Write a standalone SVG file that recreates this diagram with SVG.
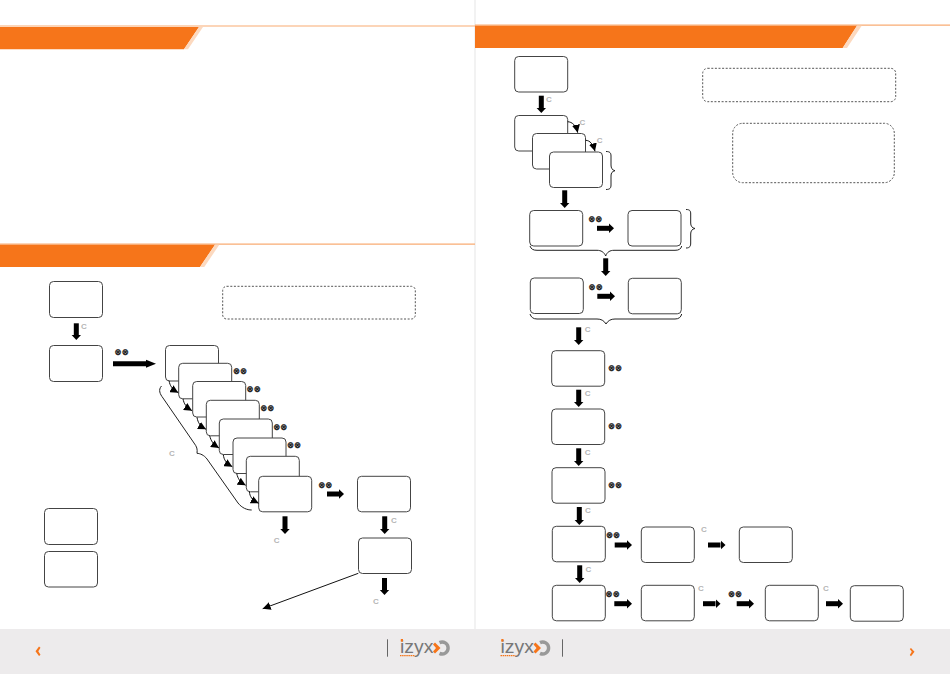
<svg xmlns="http://www.w3.org/2000/svg" width="950" height="674" viewBox="0 0 950 674">
<style>
.n{fill:#fff;stroke:#444;stroke-width:1}
.d{fill:#fff;stroke:#555;stroke-width:1;stroke-dasharray:2 1.6}
.a{fill:none;stroke:#000;stroke-width:5;marker-end:url(#h)}
.A{fill:none;stroke:#000;stroke-width:5;marker-end:url(#H)}
.t{fill:none;stroke:#111;stroke-width:1;marker-end:url(#s)}
.b{fill:none;stroke:#222;stroke-width:1}
.c{font:bold 8px "Liberation Sans",Arial,sans-serif;fill:#b5b5b5;text-anchor:middle}
.x{font:bold 8.5px "DejaVu Sans",sans-serif;fill:#111;stroke:#111;stroke-width:.25;text-anchor:middle}
.o{fill:#f6751a}
.l{fill:#fcd9bf}
.logo{font:17.5px "Liberation Sans",Arial,sans-serif;fill:#777}
</style>
<defs>
<marker id="h" markerUnits="userSpaceOnUse" markerWidth="6" markerHeight="11" refX="0" refY="5.5" orient="auto"><path d="M0 .8L5 5.5L0 10.2Z"/></marker>
<marker id="H" markerUnits="userSpaceOnUse" markerWidth="11" markerHeight="11" refX="0" refY="5.5" orient="auto"><path d="M0 1.5L10 5.5L0 9.5Z"/></marker>
<marker id="s" markerUnits="userSpaceOnUse" markerWidth="9" markerHeight="8" refX="8" refY="4" orient="auto"><path d="M0 0L8 4L0 8Z"/></marker>
<g id="logo">
<text class="logo" x="0" y="653" textLength="33.5" lengthAdjust="spacingAndGlyphs">izyx</text>
<rect x="0.8" y="639" width="2.2" height="2.6" fill="#f6751a"/>
<path d="M0 655.6H15" stroke="#f6751a" stroke-width="1.4" stroke-dasharray="1.5 .6" fill="none"/>
<path d="M39.5 642.6A6 6 0 1 1 39.5 653.4" fill="none" stroke="#999" stroke-width="3.4"/>
<path d="M35 642.5L40.5 648L35 653.5L33 651.5L36 648L33 644.5Z" fill="#f6751a"/>
</g>
</defs>
<rect width="950" height="674" fill="#fff"/>
<path d="M475 0V629" stroke="#eeeeee" stroke-width="1.5"/>

<g id="headers">
<path d="M0 25.5H475V26.6H0Z" fill="#f9ab73"/>
<path class="o" d="M0 27H199L184 49.3H0Z"/><path class="l" d="M199 27H203L188 49.3H184Z"/>
<path d="M0 243.6H475V244.7H0Z" fill="#f9ab73"/>
<path class="o" d="M0 244.7H215L200 267H0Z"/><path class="l" d="M215 244.7H219.3L204.3 267H200Z"/>
<path d="M475 24.6H950V25.7H475Z" fill="#f9ab73"/>
<path class="o" d="M475 25.7H857L842.7 48H475Z"/><path class="l" d="M857 25.7H861.7L847 48H842.7Z"/>
</g>
<g id="footer">
<rect y="629" width="950" height="45" fill="#edebec"/>
<path class="o" d="M39 646.5L35.5 651.3L39 656L40.5 654.8L38.3 651.3L40.5 647.7Z"/>
<path class="o" d="M911 648L914.5 651.8L911 656.2L909.8 655L911.8 651.8L909.8 649Z"/>
<path d="M387.5 639.3V656.7M562.5 639.3V656.7" stroke="#666" stroke-width="1"/>
<use href="#logo" x="400"/>
<use href="#logo" x="500.5"/>
</g>

<g id="note-1"><rect class="d" x="222.7" y="286.3" width="192.6" height="32.7" rx="4"/></g>
<g id="note-2"><rect class="d" x="702.7" y="68.3" width="193" height="33.4" rx="5"/></g>
<g id="note-3"><rect class="d" x="732.7" y="123.3" width="161.6" height="59.4" rx="10"/></g>

<g id="n1"><rect class="n" x="49.5" y="281.5" width="53" height="36" rx="4"/></g>
<g id="n2"><rect class="n" x="49.5" y="345.5" width="53" height="36" rx="4"/></g>
<g id="n3"><rect class="n" x="165.5" y="345.5" width="53" height="35.5" rx="4"/></g>
<g id="n4"><rect class="n" x="178.7" y="363.3" width="53" height="35.5" rx="4"/></g>
<g id="n5"><rect class="n" x="192.7" y="381.5" width="53" height="35.5" rx="4"/></g>
<g id="n6"><rect class="n" x="206.3" y="400.3" width="53" height="35.5" rx="4"/></g>
<g id="n7"><rect class="n" x="219.3" y="419" width="53" height="35.5" rx="4"/></g>
<g id="n8"><rect class="n" x="233" y="438" width="53" height="35.5" rx="4"/></g>
<g id="n9"><rect class="n" x="246.3" y="456.3" width="53" height="35.5" rx="4"/></g>
<g id="n10"><rect class="n" x="258.7" y="476.3" width="53" height="35.5" rx="4"/></g>
<g id="n11"><rect class="n" x="357.5" y="476.3" width="53" height="35.5" rx="4"/></g>
<g id="n12"><rect class="n" x="358.5" y="538" width="53" height="35.5" rx="4"/></g>
<g id="n13"><rect class="n" x="44.5" y="508.5" width="53" height="36" rx="4"/></g>
<g id="n14"><rect class="n" x="44.5" y="551.5" width="53" height="35.5" rx="4"/></g>

<g id="n15"><rect class="n" x="514.7" y="56.5" width="53" height="35.5" rx="4"/></g>
<g id="n16"><rect class="n" x="514.7" y="115.5" width="53" height="35.5" rx="4"/></g>
<g id="n17"><rect class="n" x="532.5" y="133.5" width="53" height="35.5" rx="4"/></g>
<g id="n18"><rect class="n" x="549.5" y="152" width="53" height="35.5" rx="4"/></g>
<g id="n19"><rect class="n" x="529.7" y="210.5" width="53" height="35.5" rx="4"/></g>
<g id="n20"><rect class="n" x="628" y="210.5" width="53" height="35.5" rx="4"/></g>
<g id="n21"><rect class="n" x="530.3" y="278" width="53" height="35.5" rx="4"/></g>
<g id="n22"><rect class="n" x="628.3" y="278.3" width="53" height="35.5" rx="4"/></g>
<g id="n23"><rect class="n" x="551.7" y="350.7" width="53" height="35.5" rx="4"/></g>
<g id="n24"><rect class="n" x="551.7" y="409" width="53" height="35.5" rx="4"/></g>
<g id="n25"><rect class="n" x="552" y="467.7" width="53" height="35.5" rx="4"/></g>
<g id="n26"><rect class="n" x="552.3" y="526.3" width="53" height="35.5" rx="4"/></g>
<g id="n27"><rect class="n" x="641.3" y="527" width="53" height="35.5" rx="4"/></g>
<g id="n28"><rect class="n" x="739.3" y="527" width="53" height="35.5" rx="4"/></g>
<g id="n29"><rect class="n" x="552.3" y="585.3" width="53" height="35.5" rx="4"/></g>
<g id="n30"><rect class="n" x="641.3" y="585.3" width="53" height="35.5" rx="4"/></g>
<g id="n31"><rect class="n" x="765.3" y="585.3" width="53" height="35.5" rx="4"/></g>
<g id="n32"><rect class="n" x="850.3" y="585.7" width="53" height="35.5" rx="4"/></g>

<g id="connectors">
<path class="A" d="M113 363.7H146"/>
<path class="a" d="M76.3 323.3V335"/>
<path class="a" d="M285 516.3V529"/>
<path class="a" d="M384.7 516.3V529"/>
<path class="a" d="M384.5 578V590"/>
<path class="a" d="M327 494H339"/>
<path class="a" d="M541.3 95.7V108"/>
<path class="a" d="M564.7 190.3V203"/>
<path class="a" d="M605.7 258.3V271"/>
<path class="a" d="M578.7 327.3V340"/>
<path class="a" d="M578.7 389.7V402"/>
<path class="a" d="M578.7 448.3V461"/>
<path class="a" d="M579.3 507V520"/>
<path class="a" d="M579.7 565.3V578"/>
<path class="a" d="M597 228.3H609"/>
<path class="a" d="M597.3 296.3H610"/>
<path class="a" d="M614.7 545H627"/>
<path class="a" d="M708 545H720.5"/>
<path class="a" d="M614.3 603.7H627"/>
<path class="a" d="M703 603.7H715.5"/>
<path class="a" d="M736.7 603.7H749"/>
<path class="a" d="M826 603.7H838"/>
<path class="t" d="M169 380.5C170 386 172 389 178.3 392.7"/>
<path class="t" d="M183 398.8C184 404 186 407 192 410.7"/>
<path class="t" d="M197 417.3C198 423 200 426 206 429.3"/>
<path class="t" d="M209.7 435.8C211 441 213 444 219 448"/>
<path class="t" d="M223.3 454.7C224 460 226 463 232.3 466.7"/>
<path class="t" d="M236.7 473.5C238 479 240 482 245.7 485.3"/>
<path class="t" d="M249.3 491.5C250 497 252 500 258.7 503.3"/>
<path class="t" d="M567.7 121.7C572 122 576 125 577.7 132.7"/>
<path class="t" d="M585.7 140.3C590 140.5 593 144 595 151.3"/>
<path class="t" d="M358.3 573.3L262.7 608.7"/>
<path class="b" d="M161.5 386C158 390 160 394 163 398L194 443C197 447 197.5 449 197 453.3C200 453.5 204 455 207 459L238 503C242 508 247 510 251.7 510"/>
<path class="b" d="M606 151.5C610 151.5 611 153 611 156V165C611 168 612 170 615 170.7C612 171.5 611 173 611 176V185C611 188 610 189.5 606 189.5"/>
<path class="b" d="M686 209.5C690 209.5 690.7 211 690.7 214V223C690.7 226 692 228 695 228.5C692 229 690.7 231 690.7 234V243C690.7 246 690 248 686 248"/>
<path class="b" d="M530 246C531 249 533 250.3 537 250.3H597C601 250.3 604 252 605.7 256C607 252 610 250.3 614 250.3H675C679 250.3 681 249 681.7 246"/>
<path class="b" d="M530 314C531 317 533 319 537 319H597C601 319 604 320.5 606 324C608 320.5 611 319 615 319H675C679 319 681 317 681.7 314"/>
</g>

<g id="labels">
<text class="x" x="121.7" y="355.3">⊗⊗</text>
<text class="x" x="240" y="373.7">⊗⊗</text>
<text class="x" x="253.7" y="392.3">⊗⊗</text>
<text class="x" x="267.3" y="411">⊗⊗</text>
<text class="x" x="280.3" y="429.7">⊗⊗</text>
<text class="x" x="294" y="448">⊗⊗</text>
<text class="x" x="325.3" y="487.7">⊗⊗</text>
<text class="x" x="595.3" y="222">⊗⊗</text>
<text class="x" x="595.7" y="289.7">⊗⊗</text>
<text class="x" x="615" y="371.3">⊗⊗</text>
<text class="x" x="615" y="429.3">⊗⊗</text>
<text class="x" x="615" y="488.3">⊗⊗</text>
<text class="x" x="613" y="538.3">⊗⊗</text>
<text class="x" x="612.7" y="597">⊗⊗</text>
<text class="x" x="735" y="597">⊗⊗</text>
<text class="c" x="84" y="329.2">C</text>
<text class="c" x="172" y="456.2">C</text>
<text class="c" x="276.7" y="542.9">C</text>
<text class="c" x="394" y="522.9">C</text>
<text class="c" x="376" y="604.2">C</text>
<text class="c" x="549" y="101.9">C</text>
<text class="c" x="582.3" y="124.9">C</text>
<text class="c" x="599.7" y="143.2">C</text>
<text class="c" x="587.7" y="332.2">C</text>
<text class="c" x="587.7" y="395.9">C</text>
<text class="c" x="587.7" y="455.2">C</text>
<text class="c" x="588" y="513.2">C</text>
<text class="c" x="704" y="531.9">C</text>
<text class="c" x="588.3" y="571.9">C</text>
<text class="c" x="701" y="590.9">C</text>
<text class="c" x="826" y="590.9">C</text>
</g>
</svg>
